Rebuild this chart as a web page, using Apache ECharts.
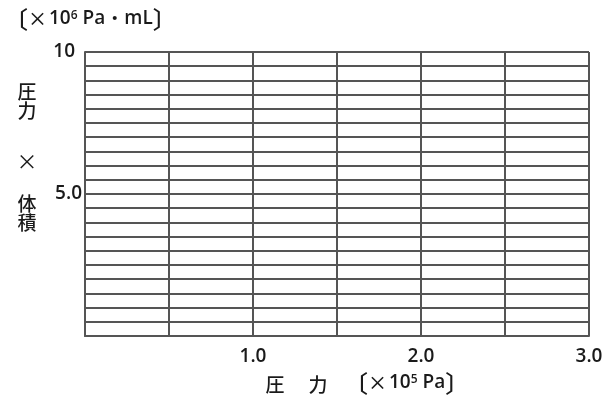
<!DOCTYPE html>
<html>
<head>
<meta charset="utf-8">
<script src="https://cdn.jsdelivr.net/npm/echarts@6/dist/echarts.min.js"></script>
<style>
html,body{margin:0;padding:0;background:#fff;}
#chart{width:610px;height:398px;}
</style>
</head>
<body>
<div id="chart"></div>
<script>
// Axis ranges and tick labels
var xRange = [0, 3.0];
var xStep = 0.5;
var xTickLabels = { '1': '1.0', '2': '2.0', '3': '3.0' };
var yRange = [0, 10];
var yStep = 0.5;
var yTickLabels = { '5': '5.0', '10': '10' };
// Empty data set (blank graph paper)
var pointsX = [];
var pointsY = [];

var FONT = '"Open Sans", "Noto Sans CJK JP", sans-serif';
var JP = '"Noto Sans CJK JP", sans-serif';
var LINE = '#555555';
var TXT = '#1a1a1a';

var chart = echarts.init(document.getElementById('chart'), null, { renderer: 'canvas' });
var seriesData = pointsX.map(function (x, i) { return [x, pointsY[i]]; });

var unitRich = {
  b: { fontSize: 24, fontFamily: JP, fontWeight: 500, fill: TXT },
  x: { fontSize: 19, fontFamily: JP, fontWeight: 500, fill: TXT, padding: [0, 2, 0, 0] },
  n: { fontSize: 19, fontFamily: FONT, fontWeight: 600, fill: TXT },
  s: { fontSize: 12, fontFamily: FONT, fontWeight: 600, fill: TXT, verticalAlign: 'top', padding: [3, 5, 0, 0] },
  d: { fontSize: 19, fontFamily: JP, fontWeight: 400, fill: TXT }
};

chart.setOption({
  animation: false,
  backgroundColor: '#ffffff',
  grid: { left: 85, top: 52, right: 21, bottom: 62, containLabel: false },
  xAxis: {
    type: 'value', min: xRange[0], max: xRange[1], interval: xStep,
    axisLine: { show: true, lineStyle: { color: LINE, width: 2 } },
    axisTick: { show: false },
    splitLine: { show: true, lineStyle: { color: LINE, width: 2 } },
    axisLabel: {
      show: true, margin: 11, color: TXT, fontSize: 19, fontWeight: 600, fontFamily: FONT,
      showMinLabel: true, showMaxLabel: true,
      formatter: function (v) { var k = String(Math.round(v * 100) / 100); return xTickLabels[k] || ''; }
    }
  },
  yAxis: {
    type: 'value', min: yRange[0], max: yRange[1], interval: yStep,
    axisLine: { show: true, lineStyle: { color: LINE, width: 2 } },
    axisTick: { show: false },
    splitLine: { show: true, lineStyle: { color: LINE, width: 2 } },
    axisLabel: {
      show: true, margin: 3, color: TXT, fontSize: 19, fontWeight: 600, fontFamily: FONT,
      showMinLabel: true, showMaxLabel: true,
      formatter: function (v) {
        var k = String(Math.round(v * 100) / 100);
        if (!yTickLabels[k]) return '';
        return k === '10' ? '{t|' + yTickLabels[k] + '}' : yTickLabels[k];
      },
      rich: { t: { fontSize: 19, fontWeight: 600, fontFamily: FONT, color: TXT, padding: [0, 7, 0, 0] } }
    }
  },
  series: [{ type: 'scatter', data: seriesData, symbolSize: 6 }],
  graphic: [
    { type: 'text', left: 4, top: 7, style: {
        text: '{b|〔}{x|×}{n|10}{s|6}{n|Pa}{d|・}{n|mL}{b|〕}', fill: TXT, rich: unitRich
    } },
    { type: 'text', x: 27, y: 92, style: { text: '圧', fill: TXT, font: '500 19px ' + JP, textAlign: 'center', textVerticalAlign: 'middle' } },
    { type: 'text', x: 27, y: 111, style: { text: '力', fill: TXT, font: '500 19px ' + JP, textAlign: 'center', textVerticalAlign: 'middle' } },
    { type: 'text', x: 27, y: 161, style: { text: '×', fill: TXT, font: '21px ' + JP, textAlign: 'center', textVerticalAlign: 'middle' } },
    { type: 'text', x: 27, y: 204, style: { text: '体', fill: TXT, font: '500 19px ' + JP, textAlign: 'center', textVerticalAlign: 'middle' } },
    { type: 'text', x: 27, y: 223, style: { text: '積', fill: TXT, font: '500 19px ' + JP, textAlign: 'center', textVerticalAlign: 'middle' } },
    { type: 'text', x: 275, y: 385, style: { text: '圧', fill: TXT, font: '500 19px ' + JP, textAlign: 'center', textVerticalAlign: 'middle' } },
    { type: 'text', x: 318, y: 385, style: { text: '力', fill: TXT, font: '500 19px ' + JP, textAlign: 'center', textVerticalAlign: 'middle' } },
    { type: 'text', left: 344, top: 371, style: {
        text: '{b|〔}{x|×}{n|10}{s|5}{n|Pa}{b|〕}', fill: TXT, rich: unitRich
    } }
  ]
});
</script>
</body>
</html>
